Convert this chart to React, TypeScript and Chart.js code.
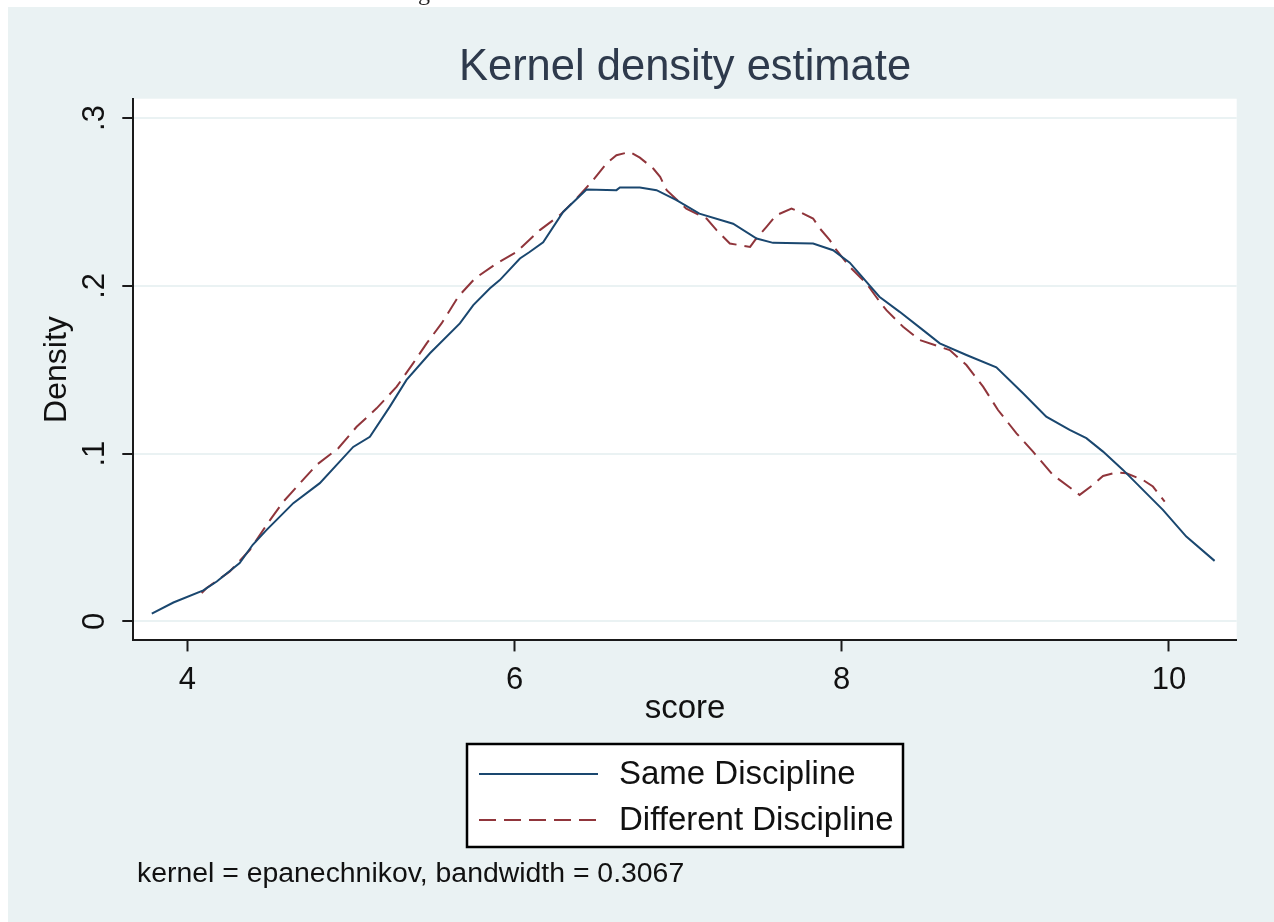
import React, { useEffect, useRef } from "react";
import { Chart, registerables } from "chart.js";

Chart.register(...registerables);

// ---- data ----
const SAME_X = [3.783, 3.915, 4.098, 4.18, 4.32, 4.4, 4.485, 4.648, 4.81, 5.014, 5.116, 5.238, 5.34, 5.483, 5.666, 5.748, 5.85, 5.91, 6.033, 6.09, 6.175, 6.297, 6.44, 6.623, 6.644, 6.766, 6.868, 6.99, 7.13, 7.336, 7.48, 7.58, 7.825, 7.947, 8.049, 8.23, 8.354, 8.497, 8.599, 8.762, 8.945, 9.108, 9.25, 9.393, 9.495, 9.597, 9.719, 9.963, 10.106, 10.279];
const SAME_Y = [0.0046, 0.0113, 0.0185, 0.0238, 0.0348, 0.0457, 0.0546, 0.0705, 0.0824, 0.104, 0.11, 0.128, 0.1439, 0.1598, 0.1776, 0.1885, 0.1985, 0.2034, 0.2163, 0.22, 0.226, 0.244, 0.2574, 0.257, 0.2586, 0.2586, 0.257, 0.251, 0.243, 0.237, 0.2282, 0.2256, 0.2252, 0.2212, 0.2138, 0.1935, 0.1845, 0.1736, 0.1657, 0.1588, 0.1514, 0.136, 0.122, 0.1141, 0.1092, 0.1012, 0.0903, 0.0665, 0.0506, 0.0361];

const DIFF_X = [4.088, 4.118, 4.26, 4.383, 4.485, 4.587, 4.689, 4.79, 4.923, 5.035, 5.157, 5.28, 5.38, 5.463, 5.554, 5.656, 5.758, 5.89, 6.012, 6.155, 6.277, 6.379, 6.48, 6.562, 6.623, 6.705, 6.766, 6.848, 6.89, 6.93, 7.05, 7.174, 7.235, 7.316, 7.44, 7.47, 7.54, 7.6, 7.693, 7.744, 7.825, 7.866, 7.927, 7.968, 8.049, 8.151, 8.232, 8.273, 8.375, 8.477, 8.66, 8.762, 8.864, 8.955, 9.068, 9.169, 9.291, 9.414, 9.454, 9.536, 9.597, 9.678, 9.74, 9.841, 9.902, 9.974];
const DIFF_Y = [0.0169, 0.0199, 0.0298, 0.0427, 0.0576, 0.0714, 0.0824, 0.0933, 0.1032, 0.116, 0.127, 0.1399, 0.1538, 0.1657, 0.1776, 0.1935, 0.2044, 0.2133, 0.2202, 0.2332, 0.2421, 0.252, 0.2629, 0.2729, 0.2778, 0.2798, 0.2764, 0.2699, 0.2649, 0.257, 0.246, 0.2401, 0.2332, 0.2252, 0.2232, 0.2272, 0.2351, 0.2421, 0.246, 0.244, 0.2401, 0.2342, 0.2272, 0.2212, 0.2113, 0.2014, 0.1905, 0.1855, 0.1756, 0.1677, 0.1617, 0.1528, 0.1399, 0.126, 0.1121, 0.1012, 0.0873, 0.0784, 0.0754, 0.0814, 0.0867, 0.0887, 0.0883, 0.0843, 0.0804, 0.0714];

const SERIES_LABELS = ["Same Discipline", "Different Discipline"];
const X_TICKS = [4, 6, 8, 10];
const X_TICK_LABELS = ["4", "6", "8", "10"];
const Y_TICKS = [0, 0.1, 0.2, 0.3];
const Y_TICK_LABELS = ["0", ".1", ".2", ".3"];
const TITLE = "Kernel density estimate";
const X_TITLE = "score";
const Y_TITLE = "Density";
const NOTE = "kernel = epanechnikov, bandwidth = 0.3067";

// ---- styles ----
const FONT = "'Liberation Sans', Arial, sans-serif";
const PANEL = "#eaf2f3";
const GRID = "#eaf2f3";
const AXIS = "#1a1a1a";
const TEXT = "#111111";
const TITLE_COLOR = "#2e3a4c";
const NAVY = "#1a476f";
const MAROON = "#90353b";

const W = 1266;
const H = 915;

const bgPlugin = {
  id: "bgPanel",
  beforeDraw(chart: any) {
    const { ctx, width, height, chartArea } = chart;
    ctx.save();
    ctx.fillStyle = PANEL;
    ctx.fillRect(0, 0, width, height);
    ctx.fillStyle = "#ffffff";
    ctx.fillRect(chartArea.left, chartArea.top, chartArea.right - chartArea.left, chartArea.bottom - chartArea.top);
    ctx.restore();
  },
};

const noteShiftPlugin = {
  id: "noteShift",
  afterLayout(chart: any) {
    const box = chart.boxes.find((b: any) => b.options && b.options.text === NOTE);
    if (box) {
      const dx = 129 - box.left;
      box.left += dx;
      box.right += dx;
    }
  },
};

const legendBoxPlugin = {
  id: "legendBox",
  afterDraw(chart: any) {
    const { ctx } = chart;
    const bx = 459, by = 737, bw = 436, bh = 103;
    ctx.save();
    ctx.fillStyle = "#ffffff";
    ctx.fillRect(bx, by, bw, bh);
    ctx.strokeStyle = "#000000";
    ctx.lineWidth = 2.5;
    ctx.setLineDash([]);
    ctx.strokeRect(bx, by, bw, bh);
    chart.data.datasets.forEach((ds: any, i: number) => {
      const y = by + 30 + i * 46;
      ctx.beginPath();
      ctx.setLineDash(ds.borderDash || []);
      ctx.strokeStyle = ds.borderColor;
      ctx.lineWidth = ds.borderWidth;
      ctx.moveTo(471, y);
      ctx.lineTo(590, y);
      ctx.stroke();
      ctx.setLineDash([]);
      ctx.fillStyle = TEXT;
      ctx.font = `33px ${FONT}`;
      ctx.textAlign = "left";
      ctx.textBaseline = "middle";
      ctx.fillText(ds.label, 611, y + 1);
    });
    ctx.restore();
  },
};

export default function App() {
  const ref = useRef<HTMLCanvasElement | null>(null);

  useEffect(() => {
    if (!ref.current) return;
    const chart = new Chart(ref.current, {
      type: "line",
      data: {
        datasets: [
          {
            label: SERIES_LABELS[0],
            data: SAME_X.map((x, i) => ({ x, y: SAME_Y[i] })),
            borderColor: NAVY,
            borderWidth: 2,
            pointRadius: 0,
            tension: 0,
            fill: false,
          },
          {
            label: SERIES_LABELS[1],
            data: DIFF_X.map((x, i) => ({ x, y: DIFF_Y[i] })),
            borderColor: MAROON,
            borderWidth: 2,
            borderDash: [17, 8],
            pointRadius: 0,
            tension: 0,
            fill: false,
          },
        ],
      },
      options: {
        animation: false,
        responsive: false,
        devicePixelRatio: 1,
        layout: { padding: { left: 0, right: 37.3, top: 0, bottom: 0 } },
        plugins: {
          legend: { display: false },
          tooltip: { enabled: false },
          title: {
            display: true,
            text: TITLE,
            fullSize: false,
            color: TITLE_COLOR,
            font: { family: FONT, size: 43.5, weight: "normal" },
            padding: { top: 35, bottom: 4.5 },
          },
          subtitle: {
            display: true,
            text: NOTE,
            position: "bottom",
            align: "start",
            fullSize: false,
            color: TEXT,
            font: { family: FONT, size: 28.4, weight: "normal" },
            padding: { top: 0, bottom: 31 },
          },
        },
        scales: {
          x: {
            type: "linear",
            min: 3.67,
            max: 10.414,
            afterBuildTicks: (s: any) => {
              s.ticks = X_TICKS.map((v) => ({ value: v }));
            },
            afterFit: (s: any) => {
              s.height = 216.5;
            },
            ticks: {
              autoSkip: false,
              maxRotation: 0,
              minRotation: 0,
              padding: 10,
              color: TEXT,
              font: { family: FONT, size: 31 },
              callback: (_v: any, i: number) => X_TICK_LABELS[i],
            },
            grid: {
              drawOnChartArea: false,
              drawTicks: true,
              tickLength: 11,
              tickWidth: 2,
              tickColor: AXIS,
              color: AXIS,
            },
            border: { display: true, color: AXIS, width: 2 },
            title: {
              display: true,
              text: X_TITLE,
              color: TEXT,
              font: { family: FONT, size: 33 },
              padding: { top: 0, bottom: 128 },
            },
          },
          y: {
            type: "linear",
            min: -0.0113,
            max: 0.3115,
            afterBuildTicks: (s: any) => {
              s.ticks = Y_TICKS.map((v) => ({ value: v }));
            },
            afterFit: (s: any) => {
              s.width = 125.3;
            },
            ticks: {
              autoSkip: false,
              minRotation: 90,
              maxRotation: 90,
              crossAlign: "center",
              padding: 14,
              color: TEXT,
              font: { family: FONT, size: 31 },
              callback: (_v: any, i: number) => Y_TICK_LABELS[i],
            },
            grid: {
              drawOnChartArea: true,
              color: GRID,
              lineWidth: 2,
              drawTicks: true,
              tickLength: 11,
              tickWidth: 2,
              tickColor: AXIS,
            },
            border: { display: true, color: AXIS, width: 2 },
            title: {
              display: true,
              text: Y_TITLE,
              color: TEXT,
              font: { family: FONT, size: 32 },
              padding: { top: 30, bottom: 0 },
            },
          },
        },
      } as any,
      plugins: [bgPlugin, noteShiftPlugin, legendBoxPlugin],
    });
    return () => chart.destroy();
  }, []);

  return (
    <div style={{ position: "fixed", left: 8, top: 7, width: W, height: H }}>
      <div
        style={{
          position: "absolute",
          left: 410,
          top: -7,
          width: 30,
          height: 7,
          overflow: "hidden",
          zIndex: 2,
        }}
      >
        <div
          style={{
            position: "absolute",
            left: 0,
            top: -20,
            font: "24px 'Liberation Serif', serif",
            lineHeight: "24px",
            color: "#222",
          }}
        >
          g
        </div>
      </div>
      <canvas ref={ref} width={W} height={H} style={{ display: "block" }} />
    </div>
  );
}
